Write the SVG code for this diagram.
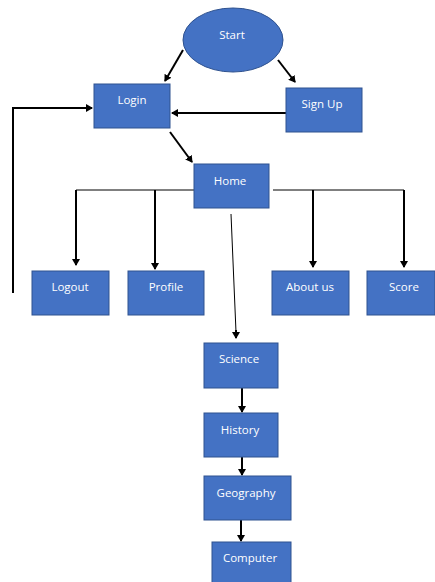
<svg xmlns="http://www.w3.org/2000/svg" width="435" height="582" viewBox="0 0 435 582">
<style>
.n{fill:#4472C4;stroke:#2F528F;stroke-width:1}
.t{fill:#fff;font-family:"Open Sans","Liberation Sans",sans-serif;font-size:11.5px;text-anchor:middle}
.c{fill:none;stroke:#000;stroke-width:2}
.thin{fill:none;stroke:#000;stroke-width:1}
</style>
<defs>
<marker id="a" markerWidth="8" markerHeight="8" refX="6" refY="4" orient="auto" markerUnits="userSpaceOnUse">
<path d="M0,0 L7,4 L0,8 Z" fill="#000"/>
</marker>
</defs>
<rect width="435" height="582" fill="#fff"/>
<g id="connectors">
<path class="c" d="M183,50 L165,81" marker-end="url(#a)"/>
<path class="c" d="M278,60 L295,82" marker-end="url(#a)"/>
<path class="c" d="M286,113 L172,113" marker-end="url(#a)"/>
<path class="c" d="M13,293 L13,108 L92,108" marker-end="url(#a)"/>
<path class="c" d="M170,132 L192,162" marker-end="url(#a)"/>
<path class="thin" d="M76,190 L194,190 M273,190 L404,190"/>
<path class="c" d="M76,190 L76,265" marker-end="url(#a)"/>
<path class="c" d="M155,190 L155,269" marker-end="url(#a)"/>
<path class="c" d="M313,190 L313,267" marker-end="url(#a)"/>
<path class="c" d="M404,190 L404,267" marker-end="url(#a)"/>
<path class="thin" d="M231,214 L236,332"/>
<path class="c" d="M236,330 L236,338" marker-end="url(#a)"/>
<path class="c" d="M242,388 L242,412" marker-end="url(#a)"/>
<path class="c" d="M242,457 L242,475" marker-end="url(#a)"/>
<path class="c" d="M241,520 L241,541" marker-end="url(#a)"/>
</g>
<g id="start"><ellipse class="n" cx="233" cy="40" rx="50" ry="32"/><text class="t" x="232" y="39">Start</text></g>
<g id="login"><rect class="n" x="94" y="84" width="76" height="44"/><text class="t" x="132" y="104">Login</text></g>
<g id="signup"><rect class="n" x="286" y="88" width="76" height="44"/><text class="t" x="322" y="108">Sign Up</text></g>
<g id="home"><rect class="n" x="194" y="164" width="75" height="44"/><text class="t" x="230" y="185">Home</text></g>
<g id="logout"><rect class="n" x="32" y="271" width="77" height="44"/><text class="t" x="70" y="291">Logout</text></g>
<g id="profile"><rect class="n" x="128" y="271" width="76" height="44"/><text class="t" x="166" y="291">Profile</text></g>
<g id="aboutus"><rect class="n" x="272" y="271" width="77" height="44"/><text class="t" x="310" y="291">About us</text></g>
<g id="score"><rect class="n" x="367" y="271" width="68" height="44"/><text class="t" x="404" y="291">Score</text></g>
<g id="science"><rect class="n" x="204" y="343" width="74" height="45"/><text class="t" x="239" y="363">Science</text></g>
<g id="history"><rect class="n" x="204" y="413" width="74" height="44"/><text class="t" x="240" y="434">History</text></g>
<g id="geography"><rect class="n" x="204" y="476" width="87" height="44"/><text class="t" x="246" y="497">Geography</text></g>
<g id="computer"><rect class="n" x="212" y="542" width="79" height="44"/><text class="t" x="250" y="562">Computer</text></g>
</svg>
